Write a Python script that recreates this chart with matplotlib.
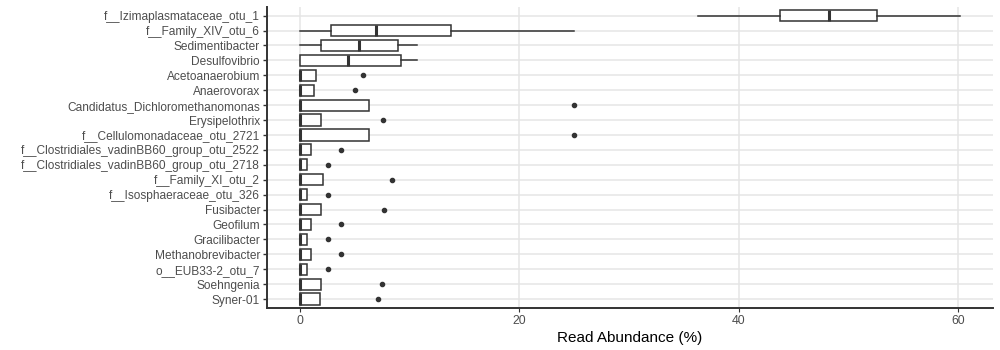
import matplotlib
matplotlib.use("Agg")
import matplotlib.pyplot as plt

plt.rcParams['font.family'] = ['Liberation Sans', 'DejaVu Sans']

# taxa, top to bottom
taxa = [
    "f__Izimaplasmataceae_otu_1", "f__Family_XIV_otu_6", "Sedimentibacter",
    "Desulfovibrio", "Acetoanaerobium", "Anaerovorax",
    "Candidatus_Dichloromethanomonas", "Erysipelothrix",
    "f__Cellulomonadaceae_otu_2721", "f__Clostridiales_vadinBB60_group_otu_2522",
    "f__Clostridiales_vadinBB60_group_otu_2718", "f__Family_XI_otu_2",
    "f__Isosphaeraceae_otu_326", "Fusibacter", "Geofilum", "Gracilibacter",
    "Methanobrevibacter", "o__EUB33-2_otu_7", "Soehngenia", "Syner-01",
]

# five-number summaries (% read abundance)
whisk_lo = [36.3, 0, 0, 0, 0, 0, 0, 0, 0, 0, 0, 0, 0, 0, 0, 0, 0, 0, 0, 0]
q1 = [43.8, 2.87, 1.87, 0, 0, 0, 0, 0, 0, 0, 0, 0, 0, 0, 0, 0, 0, 0, 0, 0]
median = [48.2, 6.95, 5.4, 4.4, 0, 0, 0, 0, 0, 0, 0, 0, 0, 0, 0, 0, 0, 0, 0, 0]
q3 = [52.6, 13.8, 8.93, 9.23, 1.44, 1.26, 6.28, 1.9, 6.28, 0.96, 0.62, 2.11,
      0.65, 1.96, 0.99, 0.65, 0.99, 0.68, 1.9, 1.81]
whisk_hi = [60.2, 25.0, 10.7, 10.7, 1.44, 1.26, 6.28, 1.9, 6.28, 0.96, 0.62,
            2.11, 0.65, 1.96, 0.99, 0.65, 0.99, 0.68, 1.9, 1.81]
outliers = [[], [], [], [], [5.77], [5.0], [25.0], [7.53], [25.0], [3.72],
            [2.51], [8.35], [2.51], [7.68], [3.72], [2.51], [3.72], [2.57],
            [7.5], [7.13]]

stats = []
for i in range(len(taxa)):
    stats.append(dict(whislo=whisk_lo[i], q1=q1[i], med=median[i], q3=q3[i],
                      whishi=whisk_hi[i], fliers=outliers[i]))

dark = "#333333"
fig = plt.figure(figsize=(10, 3.5), dpi=100)
ax = fig.add_axes([0.267, 0.12, 0.726, 0.861])

ax.bxp(stats, positions=range(len(taxa)), vert=False, widths=0.75,
       showcaps=False, patch_artist=True,
       boxprops=dict(facecolor="white", edgecolor=dark, linewidth=1.1),
       medianprops=dict(color=dark, linewidth=2.2, solid_capstyle="butt"),
       whiskerprops=dict(color=dark, linewidth=1.1),
       flierprops=dict(marker="o", markersize=3.0, markerfacecolor=dark,
                       markeredgecolor=dark, linestyle="none"),
       zorder=3)

ax.set_yticks(range(len(taxa)))
ax.set_yticklabels(taxa)
ax.set_ylim(len(taxa) - 0.4, -0.6)
ax.set_xlim(-3.01, 63.2)
ax.set_xticks([0, 20, 40, 60])

ax.grid(True, color="#e5e5e5", linewidth=1.1, zorder=0)
ax.set_axisbelow(True)
for side in ["top", "right"]:
    ax.spines[side].set_visible(False)
for side in ["left", "bottom"]:
    ax.spines[side].set_color(dark)
    ax.spines[side].set_linewidth(1.4)

ax.tick_params(axis="y", length=3, width=1, color=dark, labelsize=8.6,
               labelcolor="#4d4d4d", pad=2)
ax.tick_params(axis="x", length=3, width=0.8, color=dark, labelsize=8.8,
               labelcolor="#4d4d4d", pad=2)
ax.set_xlabel("Read Abundance (%)", fontsize=11, color="black", labelpad=3)

fig.savefig("out.png", dpi=100)
